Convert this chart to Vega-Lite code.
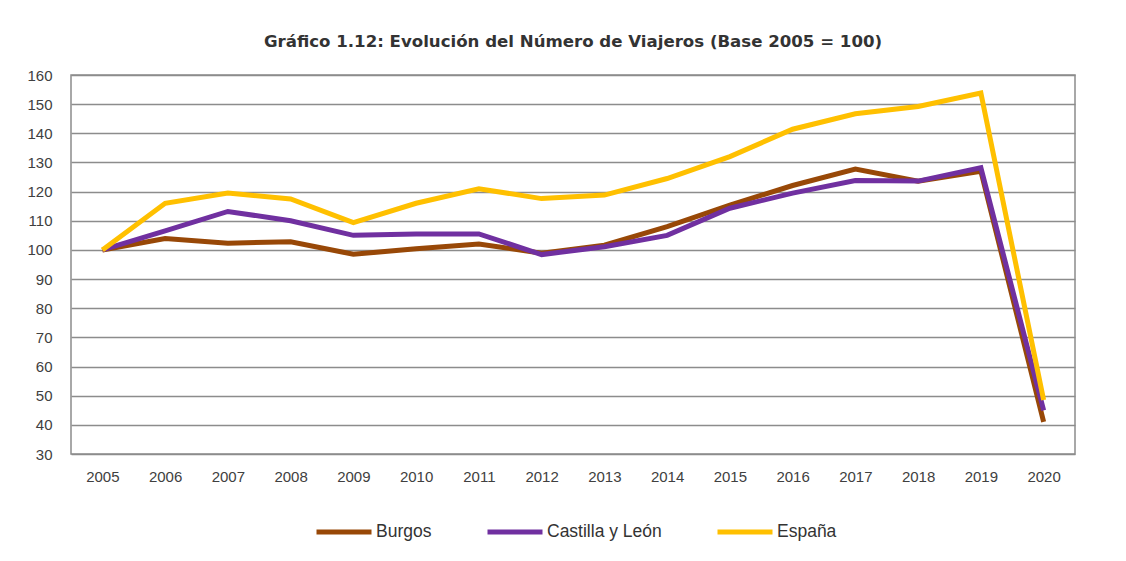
{
  "$schema": "https://vega.github.io/schema/vega-lite/v6.json",
  "width": 1004,
  "height": 379,
  "padding": {"left": 26, "top": 34, "right": 46, "bottom": 10},
  "background": "white",
  "title": {
    "text": "Gráfico 1.12: Evolución del Número de Viajeros (Base 2005 = 100)",
    "font": "DejaVu Sans",
    "fontSize": 16.6,
    "fontWeight": "bold",
    "color": "#333333",
    "anchor": "middle",
    "offset": 17
  },
  "config": {
    "view": {"stroke": "#8c8c8c", "strokeWidth": 1.5},
    "axis": {
      "labelFont": "Liberation Sans",
      "labelFontSize": 15,
      "labelColor": "#404040",
      "ticks": false,
      "domain": false,
      "title": null
    },
    "legend": {
      "labelFont": "Liberation Sans",
      "labelFontSize": 17.5,
      "labelColor": "#333333"
    }
  },
  "data": {
    "values": [
      {"year": "2005", "serie": "Burgos", "valor": 100},
      {"year": "2006", "serie": "Burgos", "valor": 103.9},
      {"year": "2007", "serie": "Burgos", "valor": 102.3},
      {"year": "2008", "serie": "Burgos", "valor": 102.8},
      {"year": "2009", "serie": "Burgos", "valor": 98.5},
      {"year": "2010", "serie": "Burgos", "valor": 100.4},
      {"year": "2011", "serie": "Burgos", "valor": 102.0},
      {"year": "2012", "serie": "Burgos", "valor": 98.9},
      {"year": "2013", "serie": "Burgos", "valor": 101.6},
      {"year": "2014", "serie": "Burgos", "valor": 108.0},
      {"year": "2015", "serie": "Burgos", "valor": 115.4},
      {"year": "2016", "serie": "Burgos", "valor": 122.1},
      {"year": "2017", "serie": "Burgos", "valor": 127.7},
      {"year": "2018", "serie": "Burgos", "valor": 123.6},
      {"year": "2019", "serie": "Burgos", "valor": 127.0},
      {"year": "2020", "serie": "Burgos", "valor": 41.0},
      {"year": "2005", "serie": "Castilla y León", "valor": 100},
      {"year": "2006", "serie": "Castilla y León", "valor": 106.5},
      {"year": "2007", "serie": "Castilla y León", "valor": 113.2},
      {"year": "2008", "serie": "Castilla y León", "valor": 110.0},
      {"year": "2009", "serie": "Castilla y León", "valor": 105.0},
      {"year": "2010", "serie": "Castilla y León", "valor": 105.5},
      {"year": "2011", "serie": "Castilla y León", "valor": 105.5},
      {"year": "2012", "serie": "Castilla y León", "valor": 98.4},
      {"year": "2013", "serie": "Castilla y León", "valor": 101.1},
      {"year": "2014", "serie": "Castilla y León", "valor": 105.0},
      {"year": "2015", "serie": "Castilla y León", "valor": 114.3},
      {"year": "2016", "serie": "Castilla y León", "valor": 119.5},
      {"year": "2017", "serie": "Castilla y León", "valor": 123.8},
      {"year": "2018", "serie": "Castilla y León", "valor": 123.6},
      {"year": "2019", "serie": "Castilla y León", "valor": 128.2},
      {"year": "2020", "serie": "Castilla y León", "valor": 45.0},
      {"year": "2005", "serie": "España", "valor": 100},
      {"year": "2006", "serie": "España", "valor": 116.0},
      {"year": "2007", "serie": "España", "valor": 119.5},
      {"year": "2008", "serie": "España", "valor": 117.5},
      {"year": "2009", "serie": "España", "valor": 109.4},
      {"year": "2010", "serie": "España", "valor": 116.0},
      {"year": "2011", "serie": "España", "valor": 121.0},
      {"year": "2012", "serie": "España", "valor": 117.6},
      {"year": "2013", "serie": "España", "valor": 118.8},
      {"year": "2014", "serie": "España", "valor": 124.5},
      {"year": "2015", "serie": "España", "valor": 132.0},
      {"year": "2016", "serie": "España", "valor": 141.4},
      {"year": "2017", "serie": "España", "valor": 146.7},
      {"year": "2018", "serie": "España", "valor": 149.2},
      {"year": "2019", "serie": "España", "valor": 153.8},
      {"year": "2020", "serie": "España", "valor": 48.5}
    ]
  },
  "mark": {"type": "line", "strokeWidth": 5, "strokeJoin": "miter"},
  "encoding": {
    "x": {
      "field": "year",
      "type": "ordinal",
      "scale": {"type": "point", "padding": 0.5},
      "axis": {"labelAngle": 0, "labelPadding": 15, "grid": false}
    },
    "y": {
      "field": "valor",
      "type": "quantitative",
      "scale": {"domain": [30, 160], "nice": false, "zero": false},
      "axis": {
        "values": [30, 40, 50, 60, 70, 80, 90, 100, 110, 120, 130, 140, 150, 160],
        "labelPadding": 19,
        "grid": true,
        "gridColor": "#8c8c8c",
        "gridWidth": 1.5,
        "gridOpacity": 1
      }
    },
    "color": {
      "field": "serie",
      "type": "nominal",
      "scale": {
        "domain": ["Burgos", "Castilla y León", "España"],
        "range": ["#984807", "#7030A0", "#FFC000"]
      },
      "legend": {
        "title": null,
        "orient": "none",
        "legendX": 243,
        "legendY": 427,
        "direction": "horizontal",
        "symbolType": "stroke",
        "symbolSize": 3025,
        "symbolStrokeWidth": 5,
        "labelOffset": 2,
        "columnPadding": 45
      }
    }
  }
}
